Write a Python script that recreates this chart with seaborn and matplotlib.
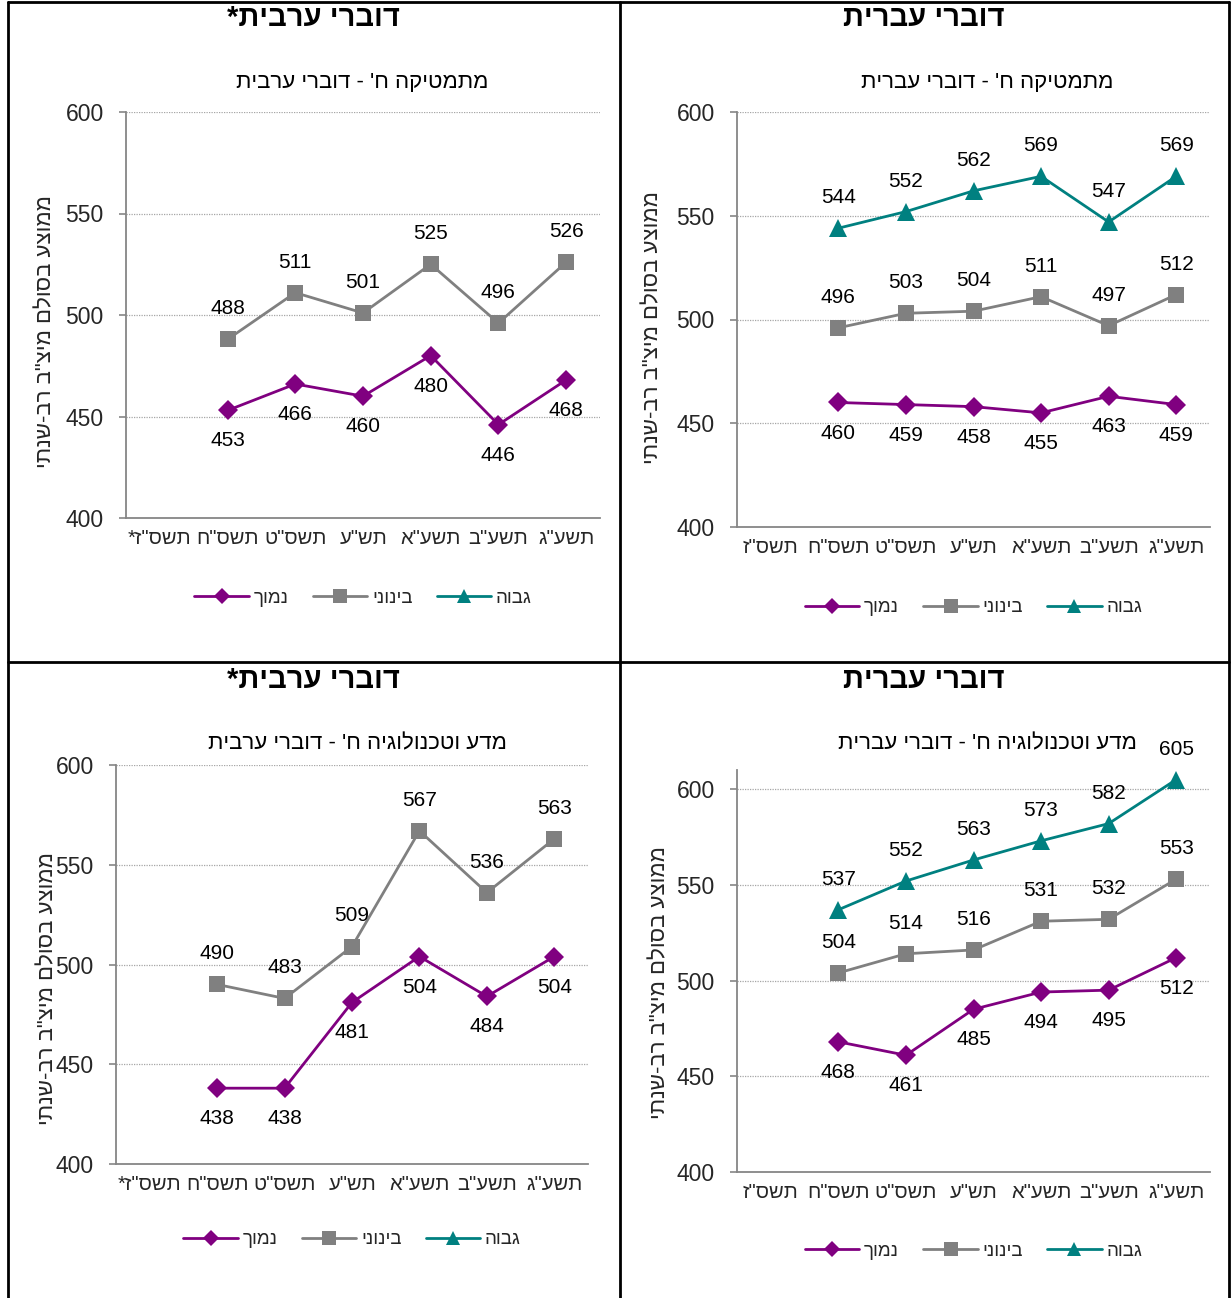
import matplotlib
matplotlib.use("Agg")
import matplotlib.pyplot as plt
from matplotlib.lines import Line2D
import seaborn as sns

# ---------------- data ----------------
years_ar = ['תשס"ז*', 'תשס"ח', 'תשס"ט', 'תש"ע', 'תשע"א', 'תשע"ב', 'תשע"ג']
years_he = ['תשס"ז', 'תשס"ח', 'תשס"ט', 'תש"ע', 'תשע"א', 'תשע"ב', 'תשע"ג']
data_years = ['תשס"ח', 'תשס"ט', 'תש"ע', 'תשע"א', 'תשע"ב', 'תשע"ג']

math_ar_low = [453, 466, 460, 480, 446, 468]
math_ar_mid = [488, 511, 501, 525, 496, 526]

math_he_low = [460, 459, 458, 455, 463, 459]
math_he_mid = [496, 503, 504, 511, 497, 512]
math_he_high = [544, 552, 562, 569, 547, 569]

sci_ar_low = [438, 438, 481, 504, 484, 504]
sci_ar_mid = [490, 483, 509, 567, 536, 563]

sci_he_low = [468, 461, 485, 494, 495, 512]
sci_he_mid = [504, 514, 516, 531, 532, 553]
sci_he_high = [537, 552, 563, 573, 582, 605]

header_ar = 'דוברי ערבית*'
header_he = 'דוברי עברית'
sub_math_ar = "מתמטיקה ח' - דוברי ערבית"
sub_math_he = "מתמטיקה ח' - דוברי עברית"
sub_sci_ar = "מדע וטכנולוגיה ח' - דוברי ערבית"
sub_sci_he = "מדע וטכנולוגיה ח' - דוברי עברית"
ylabel = 'ממוצע בסולם מיצ"ב רב-שנתי'
legend_labels = ['נמוך', 'בינוני', 'גבוה']

# ---------------- style ----------------
sns.set_theme(style="white")
plt.rcParams['font.family'] = ['Liberation Sans', 'DejaVu Sans']

C_LOW, C_MID, C_HIGH = '#800080', '#808080', '#008080'
AXC = '#868686'


def rtl(s):
    return s[::-1]


W, H = 1231, 1298
fig = plt.figure(figsize=(W / 100, H / 100), dpi=100)


def px_axes(left, right, top, bottom):
    return fig.add_axes([left / W, 1 - bottom / H, (right - left) / W, (bottom - top) / H])


def draw_panel(ax, cats, series, ymax, ylab_xy, legend_y):
    pos = [cats.index(y) if y in cats else cats.index(y + '*') for y in data_years]
    specs = {'low': (C_LOW, 'D', 10, -22), 'mid': (C_MID, 's', 12, 22), 'high': (C_HIGH, '^', 13, 22)}
    for key, vals in series.items():
        c, m, ms, off = specs[key]
        sns.lineplot(x=pos, y=vals, ax=ax, color=c, marker=m, markersize=ms,
                     markeredgecolor=c, markeredgewidth=0, linewidth=2)
        for xv, yv in zip(pos, vals):
            ax.annotate(str(yv), (xv, yv), xytext=(0, off), textcoords='offset points',
                        ha='center', va='center', fontsize=15, color='black')
    ax.set_xlim(-0.5, len(cats) - 0.5)
    ax.set_ylim(400, ymax)
    ax.set_yticks([400, 450, 500, 550, 600])
    ax.set_yticklabels(['400', '450', '500', '550', '600'], fontsize=16.5)
    ax.set_xticks([i - 0.5 for i in range(len(cats) + 1)])
    ax.set_xticklabels([])
    ax.set_xticks(list(range(len(cats))), minor=True)
    ax.set_xticklabels([rtl(c) for c in cats], minor=True, fontsize=14.5)
    ax.tick_params(axis='x', which='major', direction='out', length=5, color=AXC, width=1.2)
    ax.tick_params(axis='x', which='minor', length=0, pad=8)
    ax.tick_params(axis='y', direction='out', length=5, color=AXC, width=1.2, pad=11, left=True)
    for s in ['top', 'right']:
        ax.spines[s].set_visible(False)
    for s in ['left', 'bottom']:
        ax.spines[s].set_color(AXC)
        ax.spines[s].set_linewidth(1.3)
    for gy in [450, 500, 550, 600]:
        ax.axhline(gy, color='#a6a6a6', linewidth=0.9, linestyle=(0, (1, 1)), zorder=0)
    ax.set_xlabel('')
    ax.set_ylabel(rtl(ylabel), fontsize=16)
    ax.yaxis.set_label_coords(*ylab_xy)
    handles = [
        Line2D([], [], color=C_LOW, marker='D', markersize=8, linewidth=2, markeredgewidth=0),
        Line2D([], [], color=C_MID, marker='s', markersize=10, linewidth=2, markeredgewidth=0),
        Line2D([], [], color=C_HIGH, marker='^', markersize=10, linewidth=2, markeredgewidth=0),
    ]
    ax.legend(handles, [rtl(l) for l in legend_labels], loc='center', bbox_to_anchor=(0.5, legend_y),
              ncol=3, frameon=False, fontsize=13.5, handlelength=2.9, handletextpad=0.25,
              columnspacing=1.3)


ax_tl = px_axes(126, 600, 112, 518)
draw_panel(ax_tl, years_ar, {'low': math_ar_low, 'mid': math_ar_mid}, 600, (-0.146, 0.46), -0.197)

ax_tr = px_axes(737, 1210, 112, 527)
draw_panel(ax_tr, years_he, {'low': math_he_low, 'mid': math_he_mid, 'high': math_he_high},
           600, (-0.155, 0.48), -0.195)

ax_bl = px_axes(116, 588, 765, 1164)
draw_panel(ax_bl, years_ar, {'low': sci_ar_low, 'mid': sci_ar_mid}, 600, (-0.122, 0.44), -0.19)

ax_br = px_axes(737, 1210, 770, 1172)
draw_panel(ax_br, years_he, {'low': sci_he_low, 'mid': sci_he_mid, 'high': sci_he_high},
           610, (-0.140, 0.47), -0.197)

# headers and subtitles
for (x, y, s, fs, bold) in [
    (313, 18, header_ar, 21, True), (924, 18, header_he, 21, True),
    (313, 680, header_ar, 21, True), (924, 680, header_he, 21, True),
    (362, 82, sub_math_ar, 16, False), (987, 82, sub_math_he, 16, False),
    (357, 744, sub_sci_ar, 16, False), (987, 744, sub_sci_he, 16, False),
]:
    fig.text(x / W, 1 - y / H, rtl(s), ha='center', va='center', fontsize=fs,
             fontweight='bold' if bold else 'normal', color='black')

# table borders
def fline(x0, y0, x1, y1):
    fig.add_artist(Line2D([x0 / W, x1 / W], [1 - y0 / H, 1 - y1 / H], transform=fig.transFigure,
                          color='black', linewidth=2))

fline(8, 2, 1229, 2)
fline(8, 662, 1229, 662)
fline(8, 2, 8, H)
fline(620, 2, 620, H)
fline(1229, 2, 1229, H)

fig.savefig('out.png', dpi=100)
